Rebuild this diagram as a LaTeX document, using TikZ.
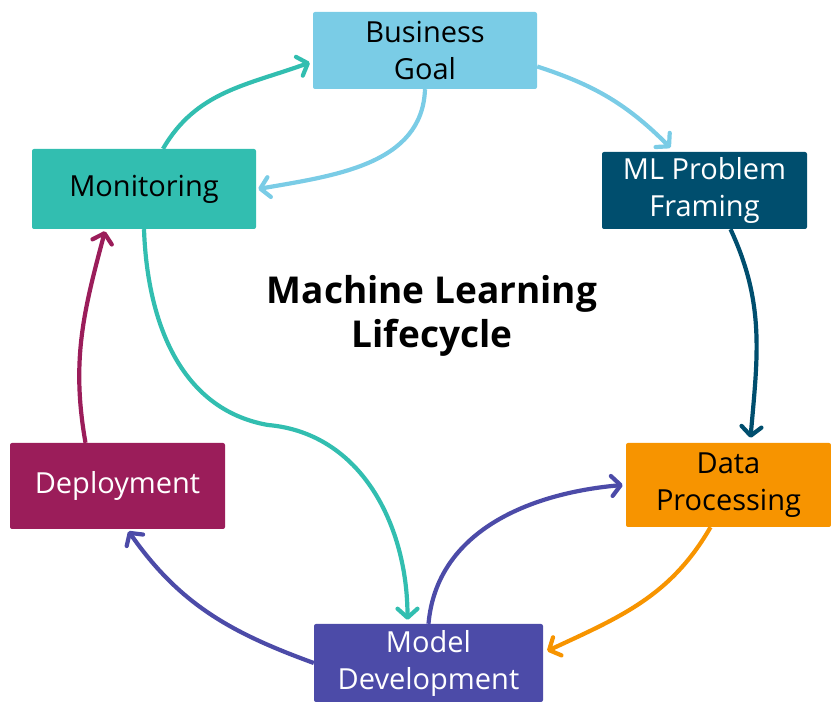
\documentclass[tikz,border=0pt]{standalone}
\usepackage{fontspec}
\setmainfont{Open Sans}
\usetikzlibrary{arrows.meta}
\definecolor{goalblue}{RGB}{122,204,230}
\definecolor{framingblue}{RGB}{0,78,110}
\definecolor{dataorange}{RGB}{247,148,0}
\definecolor{modelpurple}{RGB}{76,75,168}
\definecolor{deploymagenta}{RGB}{155,29,90}
\definecolor{monitorteal}{RGB}{50,190,176}

\begin{document}
\begin{tikzpicture}[x=1pt,y=1pt,
	stage/.style={rounded corners=2pt, inner sep=0pt, align=center, font=\fontsize{29}{37}\selectfont},
	flow/.style={line width=4.2pt, -{Straight Barb[length=9pt,width=20pt,round]}}]
	\useasboundingbox (0,0) rectangle (831,702);
	% stages
	\node[stage, fill=goalblue, minimum width=224pt, minimum height=77pt] (goal) at (425,651.5) {Business\\Goal};
	\node[stage, fill=framingblue, text=white, minimum width=205pt, minimum height=77pt] (framing) at (704.5,511.5) {ML Problem\\Framing};
	\node[stage, fill=dataorange, minimum width=205pt, minimum height=84pt] (data) at (728.5,217) {Data\\Processing};
	\node[stage, fill=modelpurple, text=white, minimum width=229pt, minimum height=78pt] (model) at (428.5,39) {Model\\Development};
	\node[stage, fill=deploymagenta, text=white, minimum width=215pt, minimum height=86pt] (deploy) at (117.5,216) {Deployment};
	\node[stage, fill=monitorteal, minimum width=224pt, minimum height=80pt] (monitor) at (144,513) {Monitoring};
	\node[font=\bfseries\fontsize{37}{44}\selectfont, align=center] (title) at (432,386) {Machine Learning\\Lifecycle};
	% cycle
	\draw[flow, monitorteal] ([xshift=19pt]monitor.north) to[out=60, in=200] ([xshift=-3pt,yshift=-12pt]goal.west);
	\draw[flow, goalblue] (goal.south) to[out=-92, in=10] ([xshift=2pt]monitor.east);
	\draw[flow, goalblue] ([yshift=-16pt]goal.east) to[out=-18, in=135] ([xshift=-34pt,yshift=4pt]framing.north);
	\draw[flow, framingblue] ([xshift=26pt]framing.south) to[out=-65, in=85] ([xshift=22pt,yshift=5pt]data.north);
	\draw[flow, dataorange] ([xshift=-18pt]data.south) to[out=-120, in=25] ([xshift=4pt,yshift=12pt]model.east);
	\draw[flow, modelpurple] (model.north) to[out=85, in=185] ([xshift=-3pt]data.west);
	\draw[flow, modelpurple] (model.west) to[out=160, in=-55] ([xshift=11pt,yshift=-2pt]deploy.south);
	\draw[flow, deploymagenta] ([xshift=-32pt]deploy.north) to[out=100, in=-105] ([xshift=-39pt,yshift=-2pt]monitor.south);
	\coordinate (kink) at (268,277);
	\draw[flow, monitorteal] (monitor.south) to[out=-88, in=170] (kink) to[out=-5, in=90] ([xshift=-21pt,yshift=4pt]model.north);
\end{tikzpicture}
\end{document}
